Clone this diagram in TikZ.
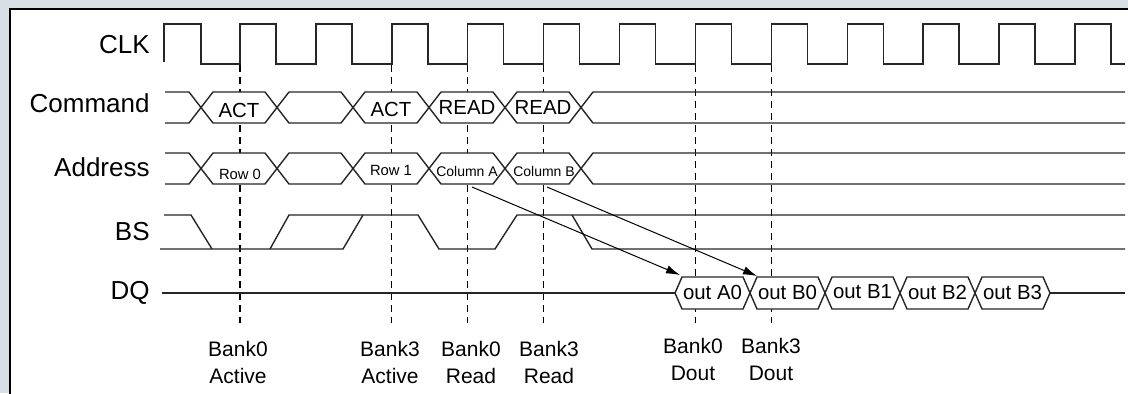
\documentclass[tikz,border=0pt]{standalone}
\usepackage{fontspec}
\setmainfont{Liberation Sans}
\usetikzlibrary{arrows.meta}
\definecolor{bgc}{RGB}{216,223,231}
\begin{document}
\begin{tikzpicture}[x=0.5pt,y=-0.5pt,
  wave/.style={line width=0.7pt, line join=miter, draw=black!85},
  hexfill/.style={wave, fill=white},
  guide/.style={line width=0.6pt, dash pattern=on 3.5pt off 2.5pt},
  rowlabel/.style={anchor=east, inner sep=0pt, font=\fontsize{13}{15}\selectfont},
  hexlabel/.style={inner sep=0pt, font=\fontsize{10.2}{12}\selectfont},
  smalllabel/.style={inner sep=0pt, font=\fontsize{7.4}{9}\selectfont},
  evlabel/.style={inner sep=0pt, align=center, font=\fontsize{10.5}{13.5}\selectfont},
  flow/.style={line width=0.5pt, -{Latex[length=7pt,width=4.2pt]}}]
\useasboundingbox (0,0) rectangle (1128,393);
\fill[bgc] (0,0) rectangle (1128,393);
\fill[white] (10,9) rectangle (1140,400);
\draw[line width=1.4pt] (10,400) -- (10,9) -- (1140,9);

% guide lines
\foreach \x in {240,391.8,467.7,543.6,695.4,771.3}
  \draw[guide] (\x,65) -- (\x,323);

% row labels
\node[rowlabel] (lclk) at (150,45) {CLK};
\node[rowlabel] (lcmd) at (150,103) {Command};
\node[rowlabel] (ladr) at (150,167) {Address};
\node[rowlabel] (lbs) at (150,232) {BS};
\node[rowlabel] (ldq) at (150,293) {DQ};

% clock
\draw[wave] (164,62) -- (164,24) -- (201,24) -- (201,64)
  foreach \k in {0,...,11}{ -- ({240+\k*75.9},64) -- ({240+\k*75.9},24) -- ({276+\k*75.9},24) -- ({276+\k*75.9},64) }
  -- (1125,64);

% command and address buses
\def\hh{12}
\foreach \yt/\yb in {92/123,153/184}{
  \pgfmathsetmacro{\ym}{(\yt+\yb)/2}
  \draw[wave] (165,\yt) -- (201-\hh,\yt) -- (201,\ym) -- (201-\hh,\yb) -- (165,\yb);
  \foreach \a/\b in {201/277,277/353,353/429,429/505,505/581}
    \draw[hexfill] (\a,\ym) -- (\a+\hh,\yt) -- (\b-\hh,\yt) -- (\b,\ym) -- (\b-\hh,\yb) -- (\a+\hh,\yb) -- cycle;
  \draw[wave] (1125,\yt) -- (581+\hh,\yt) -- (581,\ym) -- (581+\hh,\yb) -- (1125,\yb);
}
\node[hexlabel] (act0) at (239,110) {ACT};
\node[hexlabel] (act3) at (391,109) {ACT};
\node[hexlabel] (rd0) at (467,107) {READ};
\node[hexlabel] (rd3) at (543,107) {READ};
\node[smalllabel] (row0) at (240,174) {Row 0};
\node[smalllabel] (row1) at (391,170) {Row 1};
\node[smalllabel, font=\fontsize{7}{9}\selectfont] (colA) at (467,171) {Column A};
\node[smalllabel, font=\fontsize{7}{9}\selectfont] (colB) at (544,171) {Column B};

% BS
\draw[wave] (164,215) -- (191,215) -- (212,249);
\draw[wave] (160,249) -- (343,249) -- (363,215);
\draw[wave] (270,249) -- (289,215) -- (418,215) -- (439,249) -- (495,249) -- (517,215) -- (1125,215);
\draw[wave] (572,215) -- (592,249) -- (1125,249);

% DQ
\draw[wave] (162,293) -- (675,293);
\foreach \a/\b in {675/750,750/825,825/900,900/975,975/1050}
  \draw[hexfill] (\a,293) -- (\a+7,277) -- (\b-7,277) -- (\b,293) -- (\b-7,309) -- (\a+7,309) -- cycle;
\draw[wave] (1050,293) -- (1125,293);
\node[hexlabel] (oA0) at (712.5,292) {out A0};
\node[hexlabel] (oB0) at (787.5,292) {out B0};
\node[hexlabel] (oB1) at (862.5,292) {out B1};
\node[hexlabel] (oB2) at (937.5,292) {out B2};
\node[hexlabel] (oB3) at (1012.5,292) {out B3};

% arrows
\coordinate (colAfoot) at (472,187);
\coordinate (colBfoot) at (547,187);
\coordinate (oA0tip) at (680,275);
\coordinate (oB0tip) at (757,276);
\draw[flow] (colAfoot) -- (oA0tip);
\draw[flow] (colBfoot) -- (oB0tip);

% event labels
\node[evlabel] (e1) at (238,362) {Bank0\\Active};
\node[evlabel] (e2) at (390,362) {Bank3\\Active};
\node[evlabel] (e3) at (471,362) {Bank0\\Read};
\node[evlabel] (e4) at (549,362) {Bank3\\Read};
\node[evlabel] (e5) at (693,359) {Bank0\\Dout};
\node[evlabel] (e6) at (771,359) {Bank3\\Dout};
\end{tikzpicture}
\end{document}
